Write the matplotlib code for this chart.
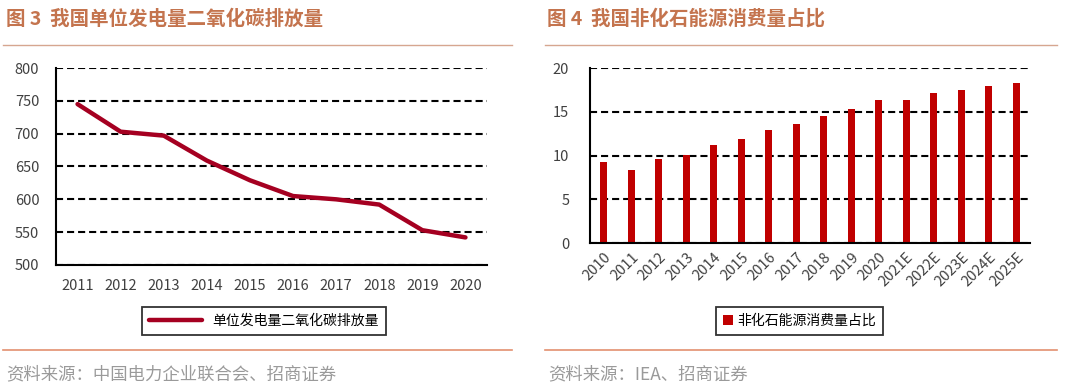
import matplotlib
matplotlib.use('Agg')
import matplotlib.pyplot as plt
from matplotlib.lines import Line2D

plt.rcParams['font.family'] = ['Noto Sans CJK SC', 'DejaVu Sans']

# 图3 数据
years_co2 = ['2011', '2012', '2013', '2014', '2015', '2016', '2017', '2018', '2019', '2020']
co2_per_kwh = [745, 703, 697, 659, 629, 605, 600, 592, 553, 542]

# 图4 数据
years_share = ['2010', '2011', '2012', '2013', '2014', '2015', '2016', '2017', '2018',
               '2019', '2020', '2021E', '2022E', '2023E', '2024E', '2025E']
nonfossil_share = [9.3, 8.3, 9.6, 10.1, 11.2, 11.9, 12.9, 13.6, 14.5,
                   15.3, 16.4, 16.4, 17.1, 17.5, 18.0, 18.3]

W, H = 1080, 392
fig = plt.figure(figsize=(W / 100, H / 100), dpi=100)

title_c = '#C4744E'
rule_top = '#D6A690'
rule_bot = '#E3906F'
src_c = '#9A9A9A'


def px(x0, y0, x1, y1):
    # 像素框 -> figure 坐标
    return [x0 / W, 1 - y1 / H, (x1 - x0) / W, (y1 - y0) / H]


def style_axes(ax):
    for s in ['top', 'right']:
        ax.spines[s].set_visible(False)
    for s in ['left', 'bottom']:
        ax.spines[s].set_linewidth(1.5)
        ax.spines[s].set_color('black')
    ax.tick_params(length=0, labelsize=10.5, colors='#404040')
    ax.tick_params(axis='y', pad=12)
    ax.set_axisbelow(True)
    ax.yaxis.grid(True, color='black', linewidth=1.5, linestyle=(0, (3.4, 1.9)))


# 标题、分隔线、来源
fig.text(6 / W, 1 - 19 / H, '图 3  我国单位发电量二氧化碳排放量', color=title_c,
         fontsize=14, fontweight='bold', va='center')
fig.text(547 / W, 1 - 19 / H, '图 4  我国非化石能源消费量占比', color=title_c,
         fontsize=14, fontweight='bold', va='center')
for x0, x1 in [(3, 512), (545, 1057)]:
    fig.add_artist(Line2D([x0 / W, x1 / W], [1 - 45 / H] * 2, color=rule_top, lw=1))
    fig.add_artist(Line2D([x0 / W, x1 / W], [1 - 350 / H] * 2, color=rule_bot, lw=1.2))
fig.text(6 / W, 1 - 374 / H, '资料来源：中国电力企业联合会、招商证券', color=src_c,
         fontsize=12.5, va='center')
fig.text(548 / W, 1 - 374 / H, '资料来源：IEA、招商证券', color=src_c,
         fontsize=12.5, va='center')

# 左图：折线
ax1 = fig.add_axes(px(56, 68, 487, 265))
style_axes(ax1)
ax1.plot(range(len(years_co2)), co2_per_kwh, color='#A50021', lw=3.2,
         solid_capstyle='round', label='单位发电量二氧化碳排放量')
ax1.set_xlim(-0.5, len(years_co2) - 0.5)
ax1.set_ylim(500, 800)
ax1.set_yticks(range(500, 801, 50))
ax1.set_xticks(range(len(years_co2)))
ax1.set_xticklabels(years_co2)
ax1.tick_params(axis='x', pad=10)
leg1 = ax1.legend(loc='center', bbox_to_anchor=((138 + 390) / 2 / W, 1 - 321 / H),
                  bbox_transform=fig.transFigure, frameon=True, fancybox=False,
                  fontsize=10, handlelength=3.8, borderpad=0.5, borderaxespad=0)
leg1.get_frame().set_edgecolor('black')
leg1.get_frame().set_linewidth(1.3)

# 右图：柱状
ax2 = fig.add_axes(px(590, 68, 1030, 243))
style_axes(ax2)
ax2.tick_params(axis='y', pad=15)
ax2.bar(range(len(years_share)), nonfossil_share, width=0.26, color='#C00000',
        label='非化石能源消费量占比')
ax2.set_xlim(-0.5, len(years_share) - 0.5)
ax2.set_ylim(0, 20)
ax2.set_yticks(range(0, 21, 5))
ax2.set_xticks(range(len(years_share)))
ax2.set_xticklabels(years_share, rotation=45, ha='right', rotation_mode='anchor')
ax2.tick_params(axis='x', pad=5)
leg2 = ax2.legend(loc='center', bbox_to_anchor=((712 + 887) / 2 / W, 1 - 321 / H),
                  bbox_transform=fig.transFigure, frameon=True, fancybox=False,
                  fontsize=10, handlelength=0.7, handleheight=0.7, handletextpad=0.3,
                  borderpad=0.5, borderaxespad=0)
leg2.get_frame().set_edgecolor('black')
leg2.get_frame().set_linewidth(1.3)

fig.savefig('out.png', dpi=100)
